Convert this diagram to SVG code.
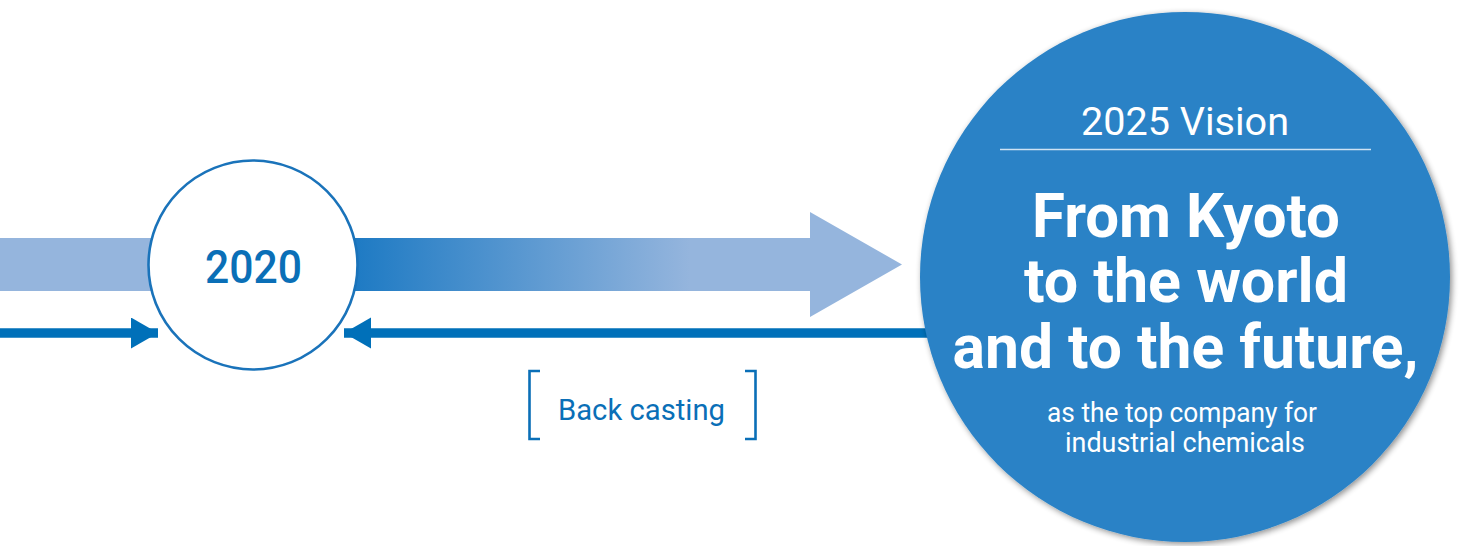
<svg xmlns="http://www.w3.org/2000/svg" width="1461" height="546" viewBox="0 0 1461 546">
  <defs>
    <style>
      .din { font-family: Roboto, "Liberation Sans", sans-serif; }
      .blue-text { fill: #0a6fb7; }
      .white-text { fill: #ffffff; }
      .flow { stroke: #0070b9; stroke-width: 9.5; fill: none; }
      .bracket { stroke: #0a6fb7; stroke-width: 2.6; fill: none; }
    </style>
    <linearGradient id="flowGrad" gradientUnits="userSpaceOnUse" x1="358" y1="0" x2="690" y2="0">
      <stop offset="0" stop-color="#1f7bc4"/>
      <stop offset="1" stop-color="#95b5dd"/>
    </linearGradient>
    <marker id="head" markerUnits="userSpaceOnUse" markerWidth="28" markerHeight="32" refX="27" refY="15.5" orient="auto">
      <path d="M0,0 L27,15.5 L0,31 Z" fill="#0070b9"/>
    </marker>
    <filter id="softShadow" x="-10%" y="-10%" width="120%" height="120%">
      <feGaussianBlur in="SourceAlpha" stdDeviation="3"/>
      <feOffset dx="2" dy="2" result="blur"/>
      <feComponentTransfer>
        <feFuncA type="linear" slope="0.45"/>
      </feComponentTransfer>
      <feMerge>
        <feMergeNode/>
        <feMergeNode in="SourceGraphic"/>
      </feMerge>
    </filter>
  </defs>

  <rect width="1461" height="546" fill="#ffffff"/>

  <!-- timeline band and connectors -->
  <g id="connectors">
    <rect x="0" y="238" width="160" height="53" fill="#95b5dd"/>
    <path d="M350,238 H810 V212 L902,264.5 L810,317 V291 H350 Z" fill="url(#flowGrad)"/>
    <line class="flow" x1="0" y1="333" x2="158" y2="333" marker-end="url(#head)"/>
    <line class="flow" x1="935" y1="333" x2="344" y2="333" marker-end="url(#head)"/>
  </g>

  <!-- 2020 milestone -->
  <g id="node-2020">
    <circle cx="253" cy="265" r="104.5" fill="#ffffff" stroke="#1a73ba" stroke-width="2.6"/>
    <text class="din blue-text" x="253.5" y="283" font-size="46" font-weight="500" text-anchor="middle" textLength="97" lengthAdjust="spacingAndGlyphs">2020</text>
  </g>

  <!-- back casting label -->
  <g id="label-backcasting">
    <path class="bracket" d="M540,371 H529.5 V439 H540"/>
    <path class="bracket" d="M745,371 H755.5 V439 H745"/>
    <text class="din blue-text" x="558" y="420" font-size="29" textLength="167" lengthAdjust="spacingAndGlyphs">Back casting</text>
  </g>

  <!-- 2025 vision -->
  <g id="node-2025">
    <circle cx="1185" cy="277" r="265" fill="#2a82c6" filter="url(#softShadow)"/>
    <text class="din white-text" x="1185" y="135" font-size="39" text-anchor="middle" textLength="208" lengthAdjust="spacingAndGlyphs">2025 Vision</text>
    <line x1="1000" y1="149.5" x2="1371" y2="149.5" stroke="#cfe2f3" stroke-width="1.3"/>
    <text class="din white-text" x="1186" y="237" font-size="61" font-weight="700" text-anchor="middle" textLength="308" lengthAdjust="spacingAndGlyphs">From Kyoto</text>
    <text class="din white-text" x="1186" y="302" font-size="61" font-weight="700" text-anchor="middle" textLength="324" lengthAdjust="spacingAndGlyphs">to the world</text>
    <text class="din white-text" x="1185.5" y="368" font-size="61" font-weight="700" text-anchor="middle" textLength="466" lengthAdjust="spacingAndGlyphs">and to the future,</text>
    <text class="din white-text" x="1182" y="422" font-size="27" text-anchor="middle" textLength="270" lengthAdjust="spacingAndGlyphs">as the top company for</text>
    <text class="din white-text" x="1185" y="452" font-size="27" text-anchor="middle" textLength="240" lengthAdjust="spacingAndGlyphs">industrial chemicals</text>
  </g>
</svg>
